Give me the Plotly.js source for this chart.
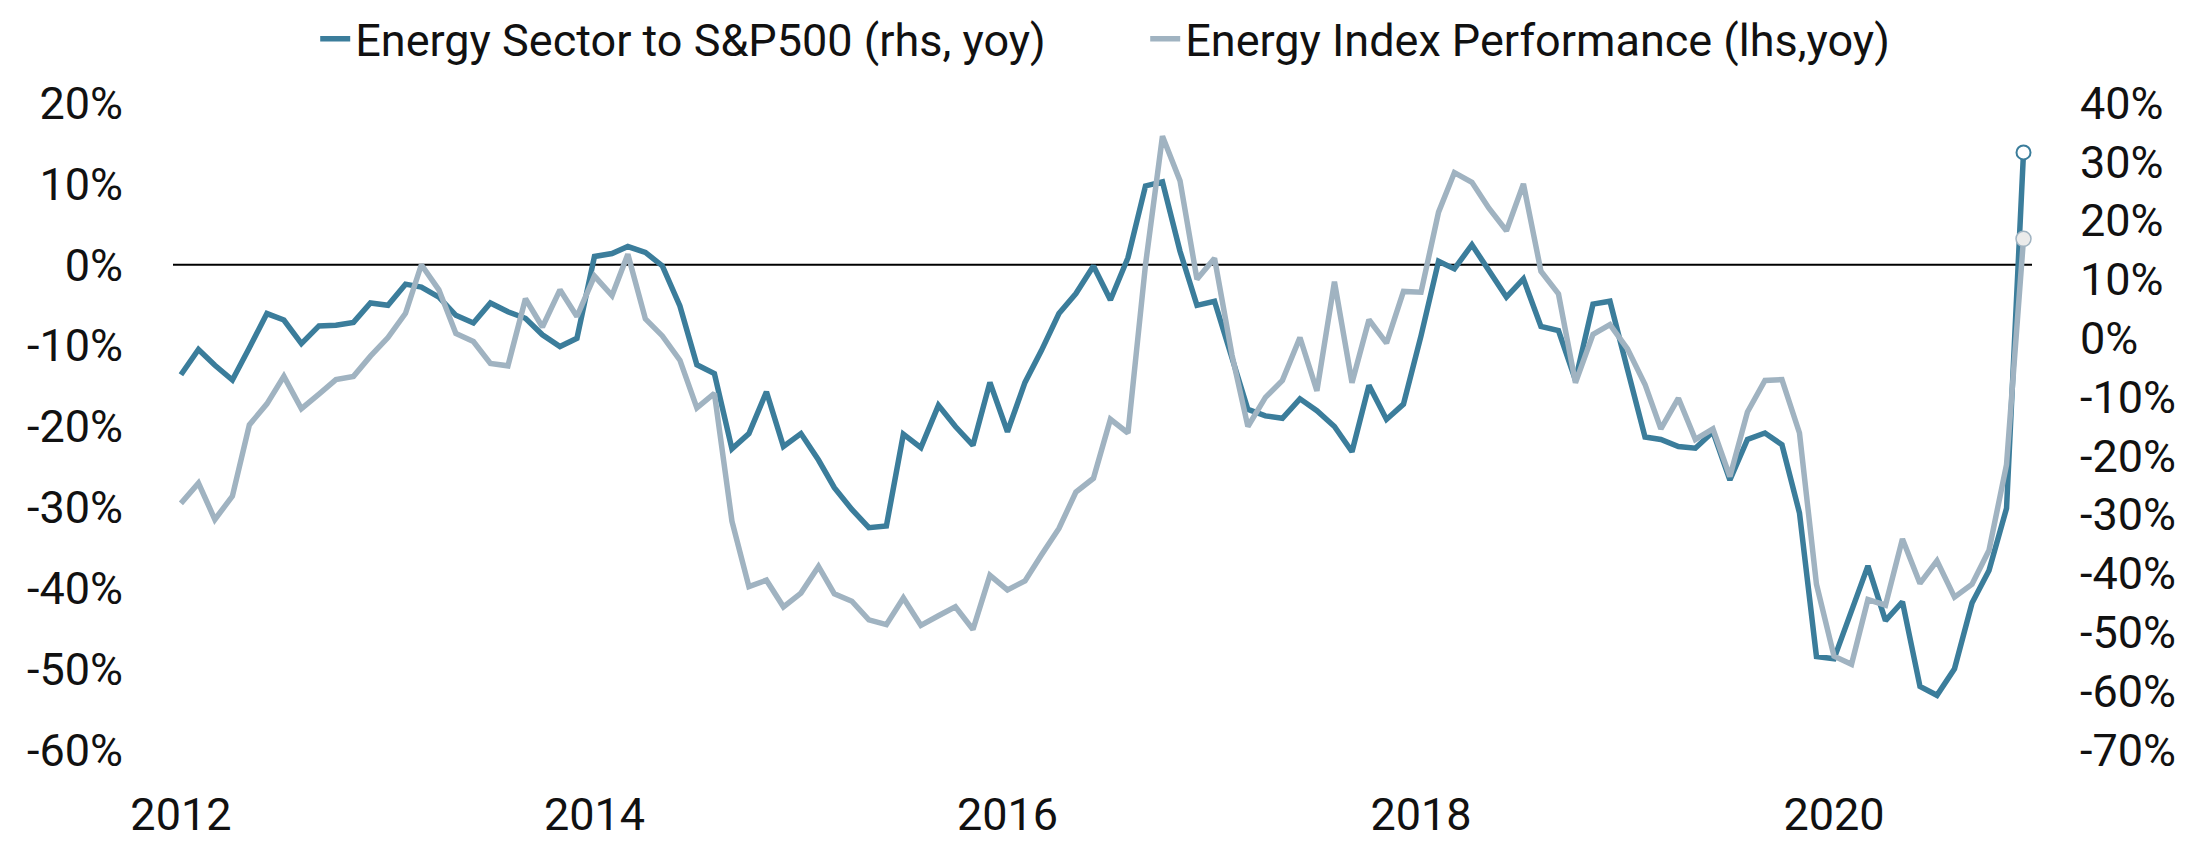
<!DOCTYPE html>
<html>
<head>
<meta charset="utf-8">
<script src="https://cdn.plot.ly/plotly-3.0.1.min.js"></script>
<style>
  html, body { margin: 0; padding: 0; background: #ffffff; }
  #chart { width: 2200px; height: 850px; }
</style>
</head>
<body>
<div id="chart"></div>
<script>
// Monthly observations, Jan 2012 .. Dec 2020
const startYear = 2012;
const endYear = 2020;

// Energy Sector to S&P500 (rhs, yoy), in %
const energyVsSpx = [
  -6.2, -1.9, -4.6, -7.1, -1.6, 4.2, 3.1, -0.9, 2.1, 2.2, 2.7, 6.0,
  5.6, 9.2, 8.7, 7.0, 3.9, 2.6, 6.0, 4.5, 3.4, 0.6, -1.4, 0.0,
  13.9, 14.4, 15.6, 14.6, 12.3, 5.5, -4.5, -6.0, -18.8, -16.2, -9.1, -18.4,
  -16.2, -20.7, -25.4, -29.1, -32.2, -31.9, -16.3, -18.6, -11.4, -15.0, -18.2, -7.5,
  -15.9, -7.5, -2.1, 4.2, 7.6, 12.3, 6.5, 13.7, 25.9, 26.6, 14.8, 5.6,
  6.3, -3.2, -12.1, -13.2, -13.6, -10.3, -12.3, -15.0, -19.3, -8.0, -13.8, -11.2,
  0.4, 13.1, 11.8, 15.9, 11.6, 7.0, 10.1, 2.0, 1.3, -7.1, 5.8, 6.3,
  -5.3, -16.8, -17.2, -18.4, -18.7, -15.9, -24.1, -17.2, -16.1, -18.1, -29.7, -54.1,
  -54.5, -46.0, -38.7, -48.0, -44.8, -59.2, -60.7, -56.2, -45.0, -39.5, -28.9, 31.6
];

// Energy Index Performance (lhs, yoy), in %
const energyIndexPerf = [
  -29.5, -27.0, -31.5, -28.6, -19.8, -17.2, -13.8, -17.8, -16.0, -14.2, -13.8, -11.3,
  -9.0, -6.0, 0.0, -3.1, -8.5, -9.5, -12.2, -12.5, -4.2, -7.7, -3.1, -6.4,
  -1.4, -3.8, 1.3, -6.7, -8.8, -11.8, -17.7, -15.9, -31.7, -39.8, -39.0, -42.3,
  -40.6, -37.3, -40.7, -41.6, -43.9, -44.5, -41.2, -44.6, -43.4, -42.3, -45.1, -38.4,
  -40.2, -39.1, -35.9, -32.6, -28.1, -26.4, -19.1, -20.8, 0.0, 15.9, 10.4, -1.8,
  0.8, -11.2, -20.0, -16.4, -14.3, -9.0, -15.6, -2.1, -14.6, -6.8, -9.7, -3.3,
  -3.4, 6.5, 11.4, 10.2, 7.0, 4.2, 10.0, -0.8, -3.6, -14.6, -8.6, -7.4,
  -10.4, -14.8, -20.3, -16.5, -21.6, -20.3, -26.2, -18.2, -14.3, -14.2, -20.8, -39.5,
  -48.4, -49.4, -41.4, -42.1, -33.9, -39.4, -36.6, -41.1, -39.5, -35.3, -24.7, 3.2
];

const seriesNames = ['Energy Sector to S&P500 (rhs, yoy)', 'Energy Index Performance (lhs,yoy)'];

const xTickVals = ['2012-01-01', '2014-01-01', '2016-01-01', '2018-01-01', '2020-01-01'];
const xTickText = ['2012', '2014', '2016', '2018', '2020'];

const lhsTickVals = [-60, -50, -40, -30, -20, -10, 0, 10, 20];
const lhsTickText = ['-60%', '-50%', '-40%', '-30%', '-20%', '-10%', '0%', '10%', '20%'];
const rhsTickVals = [-70, -60, -50, -40, -30, -20, -10, 0, 10, 20, 30, 40];
const rhsTickText = ['-70%', '-60%', '-50%', '-40%', '-30%', '-20%', '-10%', '0%', '10%', '20%', '30%', '40%'];

// monthly date labels
const months = [];
for (let y = startYear; y <= endYear; y++) {
  for (let m = 1; m <= 12; m++) {
    months.push(y + '-' + String(m).padStart(2, '0') + '-01');
  }
}

const darkColor = '#3b7d9b';
const lightColor = '#a0b3c1';
const fontFamily = 'Roboto, "Noto Sans", Arial, sans-serif';
const last = months.length - 1;

const traces = [
  {
    x: months, y: energyVsSpx, name: seriesNames[0], yaxis: 'y',
    type: 'scatter', mode: 'lines',
    line: { color: darkColor, width: 5.5 }
  },
  {
    x: [months[last]], y: [energyVsSpx[last]], yaxis: 'y', showlegend: false,
    type: 'scatter', mode: 'markers', hoverinfo: 'skip',
    marker: { size: 14, color: '#ffffff', line: { color: darkColor, width: 2 } }
  },
  {
    x: months, y: energyIndexPerf, name: seriesNames[1], yaxis: 'y2',
    type: 'scatter', mode: 'lines',
    line: { color: lightColor, width: 5.5 }
  },
  {
    x: [months[last]], y: [energyIndexPerf[last]], yaxis: 'y2', showlegend: false,
    type: 'scatter', mode: 'markers', hoverinfo: 'skip',
    marker: { size: 15, color: '#ebebeb', line: { color: lightColor, width: 1.5 } }
  }
];

const tickFont = { family: fontFamily, size: 45, color: '#111111' };

const layout = {
  width: 2200, height: 850,
  margin: { l: 173, r: 168, t: 103, b: 100, autoexpand: false },
  paper_bgcolor: '#ffffff', plot_bgcolor: '#ffffff',
  font: { family: fontFamily, color: '#111111' },
  showlegend: true,
  legend: {
    orientation: 'h', x: 0.0765, y: 1.099, xanchor: 'left', yanchor: 'middle',
    font: { family: fontFamily, size: 45, color: '#111111' },
    entrywidth: 785, bgcolor: 'rgba(0,0,0,0)', traceorder: 'normal'
  },
  xaxis: {
    type: 'date', range: ['2011-12-18', '2020-12-16'],
    tickvals: xTickVals, ticktext: xTickText,
    showgrid: false, zeroline: false, showline: false,
    ticks: 'outside', ticklen: 25, tickcolor: 'rgba(0,0,0,0)',
    tickfont: tickFont, automargin: false
  },
  yaxis: {
    side: 'right', range: [-70, 40],
    tickvals: rhsTickVals, ticktext: rhsTickText,
    showgrid: false, zeroline: false, showline: false,
    ticks: 'outside', ticklen: 38, tickcolor: 'rgba(0,0,0,0)',
    tickfont: tickFont, automargin: false
  },
  yaxis2: {
    side: 'left', overlaying: 'y', range: [-60, 20],
    tickvals: lhsTickVals, ticktext: lhsTickText,
    showgrid: false, zeroline: false, showline: false,
    ticks: 'outside', ticklen: 40, tickcolor: 'rgba(0,0,0,0)',
    tickfont: tickFont, automargin: false
  },
  shapes: [{
    type: 'line', xref: 'paper', x0: 0, x1: 1, yref: 'y2', y0: 0, y1: 0,
    line: { color: '#000000', width: 2 }, layer: 'below'
  }]
};

Plotly.newPlot('chart', traces, layout, { displayModeBar: false, staticPlot: true });
</script>
</body>
</html>
